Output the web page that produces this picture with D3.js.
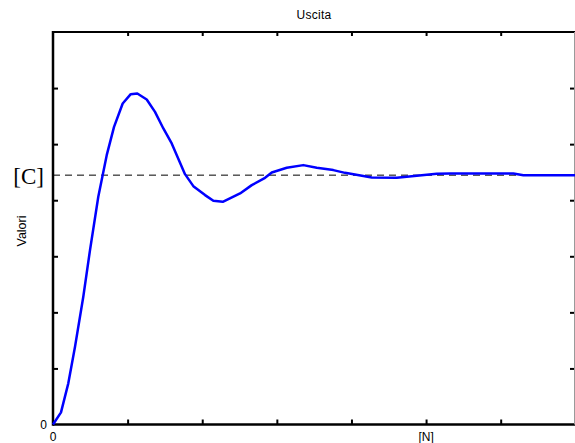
<!DOCTYPE html>
<html>
<head>
<meta charset="utf-8">
<script src="https://cdn.jsdelivr.net/npm/d3@7"></script>
<style>
  html, body { margin: 0; padding: 0; background: #fff; }
  svg { display: block; }
</style>
</head>
<body>
<svg id="chart" width="575" height="443"></svg>
<script>
// ---- data ----
const timeValues = [0, 0.107, 0.205, 0.295, 0.406, 0.496, 0.607, 0.720, 0.818, 0.934,
  1.042, 1.130, 1.256, 1.367, 1.479, 1.591, 1.769, 1.881, 2.038, 2.149,
  2.275, 2.507, 2.664, 2.842, 2.932, 3.133, 3.355, 3.535, 3.757, 3.914,
  4.272, 4.607, 4.875, 5.143, 5.322, 6.170, 6.304, 7.0];
const outputValues = [0, 0.217, 0.734, 1.387, 2.278, 3.111, 4.061, 4.804, 5.308, 5.725,
  5.891, 5.904, 5.797, 5.576, 5.280, 5.012, 4.465, 4.251, 4.091, 3.989,
  3.971, 4.121, 4.269, 4.399, 4.495, 4.578, 4.626, 4.578, 4.537, 4.488,
  4.406, 4.399, 4.435, 4.471, 4.478, 4.478, 4.447, 4.447];
const setpoint = 4.447;
const xTicks = [1, 2, 3, 4, 5, 6];
const yTicks = [1, 2, 3, 4, 5, 6];
const xTickLabels = [{v: 0, t: "0"}, {v: 5, t: "[N]"}];
const yTickLabels = [{v: 0, t: "0"}];
const titleText = "Uscita";
const yLabelText = "Valori";
const setpointLabel = "[C]";

// ---- layout ----
const svg = d3.select("#chart");
const x = d3.scaleLinear().domain([0, 7]).range([53, 575.3]);
const y = d3.scaleLinear().domain([0, 7]).range([424.5, 32]);
const sans = "'Liberation Sans', Arial, sans-serif";

// ticks (inward)
const tickStyle = g => {
  g.select(".domain").remove();
  g.selectAll(".tick line").attr("stroke", "#000").attr("stroke-width", 2);
  g.selectAll(".tick text").remove();
};
svg.append("g").attr("transform", `translate(0,${y(0)})`)
  .call(d3.axisBottom(x).tickValues(xTicks).tickSize(-5).tickFormat(""))
  .call(tickStyle);
svg.append("g").attr("transform", `translate(0,${y(7)})`)
  .call(d3.axisTop(x).tickValues(xTicks).tickSize(-4).tickFormat(""))
  .call(tickStyle);
svg.append("g").attr("transform", `translate(${x(0)},0)`)
  .call(d3.axisLeft(y).tickValues(yTicks).tickSize(-5).tickFormat(""))
  .call(tickStyle);
svg.append("g").attr("transform", `translate(575,0)`)
  .call(d3.axisRight(y).tickValues(yTicks).tickSize(-5).tickFormat(""))
  .call(tickStyle);

// frame
svg.append("line").attr("x1", x(0)).attr("x2", 575).attr("y1", y(0)).attr("y2", y(0))
  .attr("stroke", "#000").attr("stroke-width", 2.5);
svg.append("line").attr("x1", x(0)).attr("x2", x(0)).attr("y1", y(7) - 1).attr("y2", y(0) + 1.25)
  .attr("stroke", "#000").attr("stroke-width", 2.5);
svg.append("line").attr("x1", x(0)).attr("x2", 575).attr("y1", y(7)).attr("y2", y(7))
  .attr("stroke", "#000").attr("stroke-width", 2);
svg.append("line").attr("x1", 574.5).attr("x2", 574.5).attr("y1", y(7)).attr("y2", y(0))
  .attr("stroke", "#9a9a9a").attr("stroke-width", 1);

// setpoint dashed line
svg.append("line").attr("x1", x(0)).attr("x2", 575).attr("y1", y(setpoint)).attr("y2", y(setpoint))
  .attr("stroke", "#000").attr("stroke-width", 1).attr("stroke-dasharray", "7,5");

// response line
const pts = timeValues.map((t, i) => [t, outputValues[i]]);
svg.append("path").datum(pts)
  .attr("d", d3.line().x(d => x(d[0])).y(d => y(d[1])))
  .attr("fill", "none").attr("stroke", "#0000ff").attr("stroke-width", 2.5)
  .attr("stroke-linejoin", "round");

// tick labels
svg.selectAll(".xl").data(xTickLabels).enter().append("text")
  .attr("x", d => x(d.v)).attr("y", 440.5).attr("text-anchor", "middle")
  .attr("font-family", sans).attr("font-size", 12).text(d => d.t);
svg.selectAll(".yl").data(yTickLabels).enter().append("text")
  .attr("x", 47).attr("y", d => y(d.v) + 4.3).attr("text-anchor", "end")
  .attr("font-family", sans).attr("font-size", 12).text(d => d.t);

// setpoint label
svg.append("text").attr("x", 44).attr("y", y(setpoint) + 8.5).attr("text-anchor", "end")
  .attr("font-family", "'Liberation Serif', 'Times New Roman', serif").attr("font-size", 23)
  .text(setpointLabel);

// title
svg.append("text").attr("x", 314).attr("y", 19).attr("text-anchor", "middle")
  .attr("font-family", sans).attr("font-size", 12).attr("letter-spacing", 0.3).text(titleText);

// y label
svg.append("text").attr("transform", `translate(26,231) rotate(-90)`)
  .attr("text-anchor", "middle").attr("font-family", sans).attr("font-size", 12.5)
  .text(yLabelText);
</script>
</body>
</html>
